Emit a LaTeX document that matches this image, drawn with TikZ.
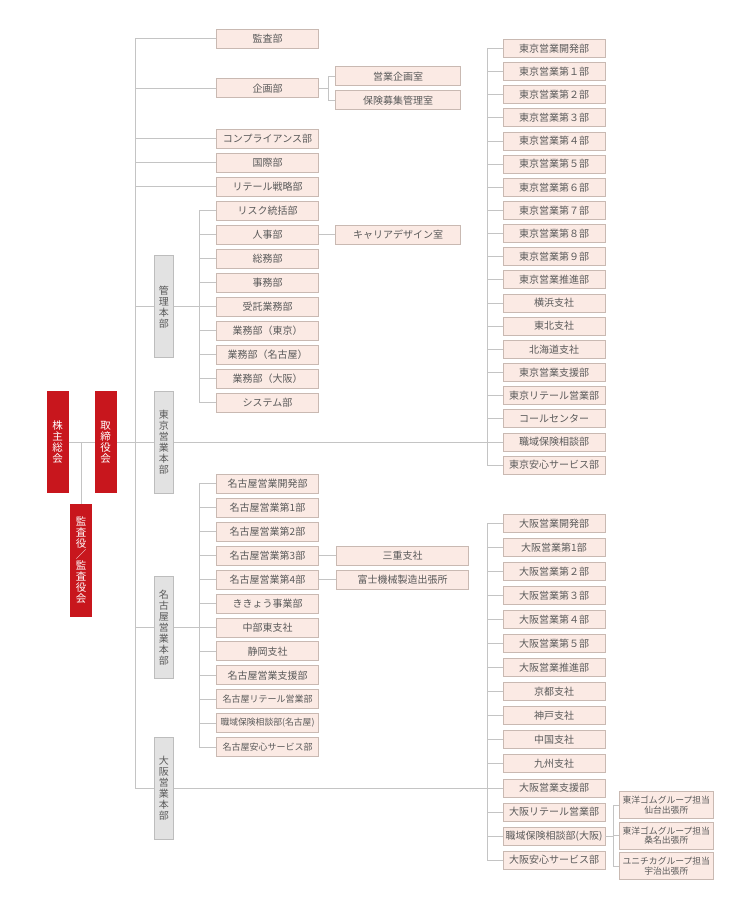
\documentclass[tikz,border=0pt]{standalone}
\usepackage{fontspec}
\setmainfont{Noto Sans CJK JP}
\definecolor{ink}{HTML}{5A5A5A}
\definecolor{rule}{HTML}{C4C4C4}
\definecolor{crimson}{HTML}{C8161D}
\definecolor{blush}{HTML}{FBEAE4}
\definecolor{blushline}{HTML}{C9B9B2}
\definecolor{hqfill}{HTML}{E2E2E2}
\definecolor{hqline}{HTML}{BDBDBD}

\begin{document}
\begin{tikzpicture}[
  x=1bp, y=-1bp,
  font=\fontsize{10bp}{11bp}\selectfont, text=ink,
  unit/.style={draw=blushline, fill=blush, line width=.8bp, inner sep=1bp,
    minimum width=102bp, minimum height=19bp},
  branch/.style={unit, minimum height=18bp},
  office/.style={unit, minimum width=94bp, minimum height=26.6bp, align=center,
    font=\fontsize{8.8bp}{9.6bp}\selectfont},
  tight/.style={font=\fontsize{9bp}{10bp}\selectfont},
  hq/.style={draw=hqline, fill=hqfill, line width=.8bp, inner sep=0pt,
    minimum width=19bp, minimum height=102bp, align=center},
  board/.style={fill=crimson, text=white, inner sep=0pt, minimum width=22bp,
    minimum height=102bp, align=center, font=\fontsize{10.5bp}{11bp}\selectfont},
  link/.style={draw=rule, line width=.8bp}
]
\useasboundingbox (0,0) rectangle (745,905);

% Governing bodies and the four head offices.
\node[board] (kabunushi) at (57.5,442) {株\\主\\総\\会};
\node[board] (torishimari) at (105.7,442) {取\\締\\役\\会};
\node[board, minimum height=113bp] (kansayaku) at (81,560.5)
  {監\\査\\役\\／\\監\\査\\役\\会};
\node[hq] (kanrihq) at (163.8,306.8) {管\\理\\本\\部};
\node[hq] (tokyohq) at (163.8,442) {東\\京\\営\\業\\本\\部};
\node[hq] (nagoyahq) at (163.8,627.4) {名\\古\\屋\\営\\業\\本\\部};
\node[hq] (osakahq) at (163.8,787.9) {大\\阪\\営\\業\\本\\部};
\coordinate (trunk) at (135,0);
\coordinate (kbus) at (199,0);
\coordinate (nbus) at (199,0);
\coordinate (tbus) at (487,0);
\coordinate (obus) at (487,0);
\coordinate (kkbus) at (328,0);
\coordinate (ofbus) at (613,0);

% Departments directly under the board, then the management head office.
\node[unit] (kansa) at (267.5,38.8) {監査部};
\node[unit] (kikaku) at (267.5,88.3) {企画部};
\node[unit] (compliance) at (267.5,138.7) {コンプライアンス部};
\node[unit] (kokusai) at (267.5,162.8) {国際部};
\node[unit] (retailsen) at (267.5,186.8) {リテール戦略部};
\node[unit] (risk) at (267.5,210.8) {リスク統括部};
\node[unit] (jinji) at (267.5,234.8) {人事部};
\node[unit] (somu) at (267.5,258.8) {総務部};
\node[unit] (jimu) at (267.5,282.8) {事務部};
\node[unit] (jutaku) at (267.5,306.8) {受託業務部};
\node[unit] (gtokyo) at (267.5,330.8) {業務部（東京）};
\node[unit] (gnagoya) at (267.5,354.8) {業務部（名古屋）};
\node[unit] (gosaka) at (267.5,378.8) {業務部（大阪）};
\node[unit] (system) at (267.5,402.8) {システム部};
\node[unit, minimum width=125bp] (eigyokikaku) at (398,76.2) {営業企画室};
\node[unit, minimum width=125bp] (hoken) at (398,100.3) {保険募集管理室};
\node[unit, minimum width=125bp] (career) at (398,234.8) {キャリアデザイン室};

% Nagoya sales head office.
\node[unit] (nkaihatsu) at (267.5,483.8) {名古屋営業開発部};
\node[unit] (n1) at (267.5,507.7) {名古屋営業第1部};
\node[unit] (n2) at (267.5,531.7) {名古屋営業第2部};
\node[unit] (n3) at (267.5,555.6) {名古屋営業第3部};
\node[unit] (n4) at (267.5,579.5) {名古屋営業第4部};
\node[unit] (kikyo) at (267.5,603.5) {ききょう事業部};
\node[unit] (chubu) at (267.5,627.4) {中部東支社};
\node[unit] (shizuoka) at (267.5,651.3) {静岡支社};
\node[unit] (nshien) at (267.5,675.2) {名古屋営業支援部};
\node[unit, tight] (nretail) at (267.5,699.2) {名古屋リテール営業部};
\node[unit, font=\fontsize{8.8bp}{9.6bp}\selectfont] (nshokuiki) at (267.5,723.1)
  {職域保険相談部(名古屋)};
\node[unit, tight] (nanshin) at (267.5,747) {名古屋安心サービス部};
\node[unit, minimum width=131.6bp] (mie) at (402.5,555.6) {三重支社};
\node[unit, minimum width=131.6bp] (fuji) at (402.5,579.5) {富士機械製造出張所};

% Tokyo sales head office.
\node[branch] (tkaihatsu) at (554,48.3) {東京営業開発部};
\node[branch] (t1) at (554,71.5) {東京営業第１部};
\node[branch] (t2) at (554,94.6) {東京営業第２部};
\node[branch] (t3) at (554,117.8) {東京営業第３部};
\node[branch] (t4) at (554,140.9) {東京営業第４部};
\node[branch] (t5) at (554,164.1) {東京営業第５部};
\node[branch] (t6) at (554,187.2) {東京営業第６部};
\node[branch] (t7) at (554,210.4) {東京営業第７部};
\node[branch] (t8) at (554,233.5) {東京営業第８部};
\node[branch] (t9) at (554,256.7) {東京営業第９部};
\node[branch] (tsuishin) at (554,279.8) {東京営業推進部};
\node[branch] (yokohama) at (554,303) {横浜支社};
\node[branch] (tohoku) at (554,326.1) {東北支社};
\node[branch] (hokkaido) at (554,349.3) {北海道支社};
\node[branch] (tshien) at (554,372.4) {東京営業支援部};
\node[branch] (tretail) at (554,395.6) {東京リテール営業部};
\node[branch] (callcenter) at (554,418.7) {コールセンター};
\node[branch] (tshokuiki) at (554,442) {職域保険相談部};
\node[branch] (tanshin) at (554,465) {東京安心サービス部};

% Osaka sales head office.
\node[branch] (okaihatsu) at (554,523.3) {大阪営業開発部};
\node[branch] (o1) at (554,547.4) {大阪営業第1部};
\node[branch] (o2) at (554,571.4) {大阪営業第２部};
\node[branch] (o3) at (554,595.5) {大阪営業第３部};
\node[branch] (o4) at (554,619.5) {大阪営業第４部};
\node[branch] (o5) at (554,643.6) {大阪営業第５部};
\node[branch] (osuishin) at (554,667.6) {大阪営業推進部};
\node[branch] (kyoto) at (554,691.7) {京都支社};
\node[branch] (kobe) at (554,715.7) {神戸支社};
\node[branch] (chugoku) at (554,739.8) {中国支社};
\node[branch] (kyushu) at (554,763.8) {九州支社};
\node[branch] (oshien) at (554,787.9) {大阪営業支援部};
\node[branch] (oretail) at (554,811.9) {大阪リテール営業部};
\node[branch] (oshokuiki) at (554,836) {職域保険相談部(大阪)};
\node[branch] (oanshin) at (554,860) {大阪安心サービス部};
\node[office] (sendai) at (666.3,805) {東洋ゴムグループ担当\\仙台出張所};
\node[office] (kuwana) at (666.3,835.7) {東洋ゴムグループ担当\\桑名出張所};
\node[office] (uji) at (666.3,866) {ユニチカグループ担当\\宇治出張所};

% Board line and main trunk.
\draw[link] (kabunushi) -- (torishimari);
\draw[link] (kansayaku.north) -- (kansayaku.north |- kabunushi);
\draw[link] (torishimari) -- (tokyohq);
\draw[link] (kansa.west) -| (trunk |- osakahq) -- (osakahq.west);
\draw[link] (trunk |- kikaku) -- (kikaku.west);
\draw[link] (trunk |- compliance) -- (compliance.west);
\draw[link] (trunk |- kokusai) -- (kokusai.west);
\draw[link] (trunk |- retailsen) -- (retailsen.west);
\draw[link] (trunk |- kanrihq) -- (kanrihq.west);
\draw[link] (trunk |- nagoyahq) -- (nagoyahq.west);
\draw[link] (kikaku.east) -- (kkbus |- kikaku);
\draw[link] (eigyokikaku.west) -| (kkbus |- hoken) -- (hoken.west);
\draw[link] (jinji) -- (career);

% Management buses.
\draw[link] (kanrihq) -- (jutaku);
\draw[link] (risk.west) -| (kbus |- system) -- (system.west);
\draw[link] (kbus |- jinji) -- (jinji.west);
\draw[link] (kbus |- somu) -- (somu.west);
\draw[link] (kbus |- jimu) -- (jimu.west);
\draw[link] (kbus |- gtokyo) -- (gtokyo.west);
\draw[link] (kbus |- gnagoya) -- (gnagoya.west);
\draw[link] (kbus |- gosaka) -- (gosaka.west);

\draw[link] (nagoyahq) -- (chubu);
\draw[link] (nkaihatsu.west) -| (nbus |- nanshin) -- (nanshin.west);
\draw[link] (nbus |- n1) -- (n1.west);
\draw[link] (nbus |- n2) -- (n2.west);
\draw[link] (nbus |- n3) -- (n3.west);
\draw[link] (nbus |- n4) -- (n4.west);
\draw[link] (nbus |- kikyo) -- (kikyo.west);
\draw[link] (nbus |- shizuoka) -- (shizuoka.west);
\draw[link] (nbus |- nshien) -- (nshien.west);
\draw[link] (nbus |- nretail) -- (nretail.west);
\draw[link] (nbus |- nshokuiki) -- (nshokuiki.west);
\draw[link] (n3) -- (mie);
\draw[link] (n4) -- (fuji);

\draw[link] (tokyohq) -- (tshokuiki);
\draw[link] (tkaihatsu.west) -| (tbus |- tanshin) -- (tanshin.west);
\draw[link] (tbus |- t1) -- (t1.west);
\draw[link] (tbus |- t2) -- (t2.west);
\draw[link] (tbus |- t3) -- (t3.west);
\draw[link] (tbus |- t4) -- (t4.west);
\draw[link] (tbus |- t5) -- (t5.west);
\draw[link] (tbus |- t6) -- (t6.west);
\draw[link] (tbus |- t7) -- (t7.west);
\draw[link] (tbus |- t8) -- (t8.west);
\draw[link] (tbus |- t9) -- (t9.west);
\draw[link] (tbus |- tsuishin) -- (tsuishin.west);
\draw[link] (tbus |- yokohama) -- (yokohama.west);
\draw[link] (tbus |- tohoku) -- (tohoku.west);
\draw[link] (tbus |- hokkaido) -- (hokkaido.west);
\draw[link] (tbus |- tshien) -- (tshien.west);
\draw[link] (tbus |- tretail) -- (tretail.west);
\draw[link] (tbus |- callcenter) -- (callcenter.west);

\draw[link] (osakahq) -- (oshien);
\draw[link] (okaihatsu.west) -| (obus |- oanshin) -- (oanshin.west);
\draw[link] (obus |- o1) -- (o1.west);
\draw[link] (obus |- o2) -- (o2.west);
\draw[link] (obus |- o3) -- (o3.west);
\draw[link] (obus |- o4) -- (o4.west);
\draw[link] (obus |- o5) -- (o5.west);
\draw[link] (obus |- osuishin) -- (osuishin.west);
\draw[link] (obus |- kyoto) -- (kyoto.west);
\draw[link] (obus |- kobe) -- (kobe.west);
\draw[link] (obus |- chugoku) -- (chugoku.west);
\draw[link] (obus |- kyushu) -- (kyushu.west);
\draw[link] (obus |- oretail) -- (oretail.west);
\draw[link] (obus |- oshokuiki) -- (oshokuiki.west);
\draw[link] (oshokuiki.east) -- (ofbus |- oshokuiki);
\draw[link] (sendai.west) -| (ofbus |- uji) -- (uji.west);
\draw[link] (ofbus |- kuwana) -- (kuwana.west);
\end{tikzpicture}
\end{document}
